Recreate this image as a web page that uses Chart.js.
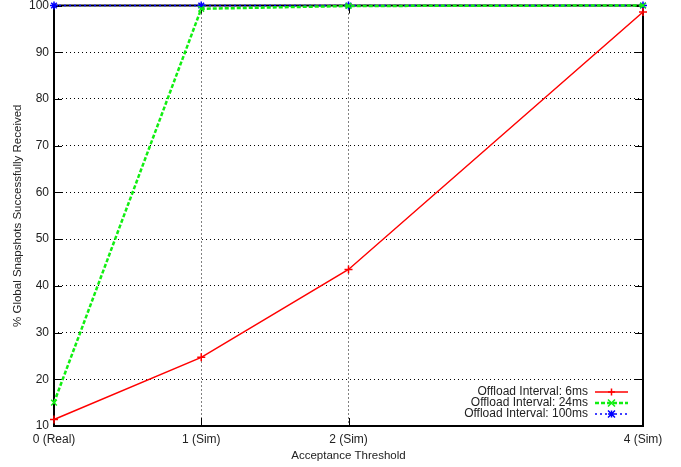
<!DOCTYPE html>
<html>
<head>
<meta charset="utf-8">
<script src="https://cdn.jsdelivr.net/npm/chart.js@4.4.0/dist/chart.umd.min.js"></script>
<style>
  html, body { margin: 0; padding: 0; background: #fff; }
  #wrap { width: 681px; height: 467px; }
</style>
</head>
<body>
<div id="wrap"><canvas id="snapshotChart" width="681" height="467"></canvas></div>
<script>
// acceptance thresholds on the x axis and their labels
const thresholds = [0, 1, 2, 4];
const thresholdLabels = { 0: '0 (Real)', 1: '1 (Sim)', 2: '2 (Sim)', 4: '4 (Sim)' };
const yTicks = [10, 20, 30, 40, 50, 60, 70, 80, 90, 100];

// % of global snapshots received per offload interval
const interval6ms = [11.4, 24.7, 43.5, 98.6];
const interval24ms = [15.0, 99.3, 99.9, 100];
const interval100ms = [100, 100, 100, 100];

const seriesNames = ['Offload Interval: 6ms', 'Offload Interval: 24ms', 'Offload Interval: 100ms'];

function toPoints(values) {
    return thresholds.map((x, i) => ({ x: x, y: values[i] }));
}

const FONT = '"Liberation Sans", Arial, Helvetica, sans-serif';
const TEXT = '#222';

// frame with inward ticks on all four sides, drawn under the lines
const framePlugin = {
    id: 'frame',
    beforeDatasetsDraw(chart) {
        const { ctx, chartArea: a, scales } = chart;
        ctx.save();
        ctx.strokeStyle = '#000';
        ctx.lineWidth = 1;
        ctx.beginPath();
        yTicks.forEach(v => {
            const y = Math.round(scales.y.getPixelForValue(v)) + 0.5;
            ctx.moveTo(a.left, y); ctx.lineTo(a.left + 8, y);
            ctx.moveTo(a.right, y); ctx.lineTo(a.right - 8, y);
        });
        thresholds.forEach(v => {
            const x = Math.round(scales.x.getPixelForValue(v)) + 0.5;
            ctx.moveTo(x, a.bottom); ctx.lineTo(x, a.bottom - 8);
            ctx.moveTo(x, a.top); ctx.lineTo(x, a.top + 8);
        });
        ctx.stroke();
        ctx.lineWidth = 2;
        ctx.strokeRect(a.left, a.top, a.right - a.left, a.bottom - a.top);
        ctx.restore();
    }
};

// gnuplot-style key in the lower right corner: text then line sample
const keyPlugin = {
    id: 'key',
    afterDraw(chart) {
        const { ctx, chartArea: a } = chart;
        ctx.save();
        ctx.font = '12px ' + FONT;
        ctx.textAlign = 'right';
        ctx.textBaseline = 'middle';
        chart.data.datasets.forEach((ds, i) => {
            const y = a.bottom - 34 + i * 11;
            const x0 = a.right - 48, x1 = a.right - 15;
            ctx.fillStyle = TEXT;
            ctx.fillText(ds.label, x0 - 7, y);
            ctx.strokeStyle = ds.borderColor;
            ctx.lineWidth = ds.borderWidth;
            ctx.setLineDash(ds.borderDash || []);
            ctx.beginPath();
            ctx.moveTo(x0, y); ctx.lineTo(x1, y);
            ctx.stroke();
            ctx.setLineDash([]);
            drawMarker(ctx, ds.pointStyle, (x0 + x1) / 2, y, ds.borderColor);
        });
        ctx.restore();
    }
};

function drawMarker(ctx, style, x, y, color) {
    const r = 3.5;
    ctx.strokeStyle = color;
    ctx.lineWidth = 1.5;
    ctx.beginPath();
    if (style === 'cross' || style === 'star') {
        ctx.moveTo(x - r, y); ctx.lineTo(x + r, y);
        ctx.moveTo(x, y - r); ctx.lineTo(x, y + r);
    }
    if (style === 'crossRot' || style === 'star') {
        ctx.moveTo(x - r, y - r); ctx.lineTo(x + r, y + r);
        ctx.moveTo(x - r, y + r); ctx.lineTo(x + r, y - r);
    }
    ctx.stroke();
}

new Chart(document.getElementById('snapshotChart'), {
    type: 'line',
    data: {
        datasets: [
            {
                label: seriesNames[0],
                data: toPoints(interval6ms),
                borderColor: '#ff0000',
                backgroundColor: '#ff0000',
                borderWidth: 1.5,
                pointStyle: 'cross',
                pointRadius: 4,
                pointBorderWidth: 1.5,
                tension: 0
            },
            {
                label: seriesNames[1],
                data: toPoints(interval24ms),
                borderColor: '#11ee11',
                backgroundColor: '#11ee11',
                borderWidth: 2.5,
                borderDash: [4, 2],
                pointStyle: 'crossRot',
                pointRadius: 4,
                pointBorderWidth: 1.5,
                tension: 0
            },
            {
                label: seriesNames[2],
                data: toPoints(interval100ms),
                borderColor: '#0000ff',
                backgroundColor: '#0000ff',
                borderWidth: 1.5,
                borderDash: [2, 3],
                pointStyle: 'star',
                pointRadius: 4,
                pointBorderWidth: 1.5,
                tension: 0
            }
        ]
    },
    options: {
        responsive: false,
        animation: false,
        clip: false,
        layout: { padding: { top: 5, right: 38, left: 0, bottom: 0 } },
        plugins: {
            legend: { display: false },
            tooltip: { enabled: false }
        },
        scales: {
            x: {
                type: 'linear',
                min: 0,
                max: 4,
                afterBuildTicks: scale => { scale.ticks = thresholds.map(v => ({ value: v })); },
                afterFit: scale => { scale.height = 41; },
                grid: { color: '#000', lineWidth: 1, drawTicks: false },
                border: { display: false, dash: [1, 3] },
                ticks: {
                    color: TEXT,
                    font: { family: FONT, size: 12 },
                    padding: 6,
                    maxRotation: 0,
                    callback: v => thresholdLabels[v] || ''
                },
                title: {
                    display: true,
                    text: 'Acceptance Threshold',
                    color: TEXT,
                    font: { family: FONT, size: 11.5 },
                    padding: { top: 0, bottom: 4 }
                }
            },
            y: {
                min: 10,
                max: 100,
                afterBuildTicks: scale => { scale.ticks = yTicks.map(v => ({ value: v })); },
                afterFit: scale => { scale.width = 54; scale.paddingTop = 0; },
                grid: { color: '#000', lineWidth: 1, drawTicks: false },
                border: { display: false, dash: [1, 3] },
                ticks: {
                    color: TEXT,
                    font: { family: FONT, size: 12 },
                    padding: 5
                },
                title: {
                    display: true,
                    text: '% Global Snapshots Successfully Received',
                    color: TEXT,
                    font: { family: FONT, size: 11.5 },
                    padding: { top: 11, bottom: 0 }
                }
            }
        }
    },
    plugins: [framePlugin, keyPlugin]
});
</script>
</body>
</html>
